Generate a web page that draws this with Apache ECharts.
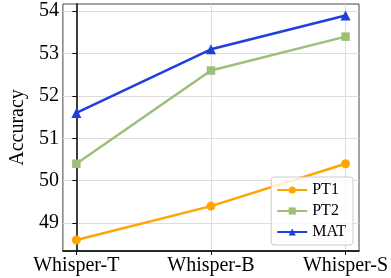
<!DOCTYPE html>
<html><head><meta charset="utf-8">
<script src="https://cdn.jsdelivr.net/npm/echarts@6/dist/echarts.min.js"></script>
<style>html,body{margin:0;padding:0;background:#fff}#c{width:391px;height:278px}</style>
</head><body><div id="c"></div>
<script>
var categories = ['Whisper-T', 'Whisper-B', 'Whisper-S'];
var pt1 = [48.6, 49.4, 50.4];
var pt2 = [50.4, 52.6, 53.4];
var mat = [51.6, 53.1, 53.9];
var yTicks = [49, 50, 51, 52, 53, 54];

function pts(arr){ return arr.map(function(v,i){ return [i, v]; }); }
var font = 'Liberation Serif';
var chart = echarts.init(document.getElementById('c'), null, {renderer:'canvas'});
chart.setOption({
  animation:false,
  grid:{left:47, right:32, top:4, bottom:27, show:true, borderColor:'#444', borderWidth:1},
  xAxis:{
    type:'value', min:-0.1, max:2.1,
    axisLine:{show:true, onZero:false, lineStyle:{color:'#000', width:1.5}},
    axisTick:{show:true, customValues:[0,1,2], length:4, lineStyle:{color:'#000'}},
    axisLabel:{customValues:[0,1,2], formatter:function(v){return categories[Math.round(v)];}, color:'#000', fontFamily:font, fontSize:20, margin:5},
    splitLine:{show:true, lineStyle:{color:'#ddd'}}
  },
  yAxis:{
    type:'value', min:48.34, max:54.17, name:'Accuracy', nameLocation:'middle', nameGap:33,
    nameTextStyle:{color:'#000', fontFamily:font, fontSize:20},
    axisLine:{show:true, lineStyle:{color:'#000', width:1.5}},
    axisTick:{show:true, customValues:yTicks, length:4, lineStyle:{color:'#000'}},
    axisLabel:{customValues:yTicks, color:'#000', fontFamily:font, fontSize:20, margin:4},
    splitLine:{show:true, lineStyle:{color:'#ddd'}}
  },
  legend:{
    right:38, bottom:33, orient:'vertical', itemWidth:30, itemHeight:9, itemGap:5,
    padding:[5,7,5,5], backgroundColor:'rgba(255,255,255,0.8)', borderColor:'#ccc', borderWidth:1, borderRadius:3,
    textStyle:{fontFamily:font, fontSize:16, color:'#000'},
    data:['PT1','PT2','MAT']
  },
  series:[
    {name:'PT1', type:'line', data:pts(pt1), symbol:'circle', symbolSize:9, color:'#FFA500', lineStyle:{width:2.5}},
    {name:'PT2', type:'line', data:pts(pt2), symbol:'rect', symbolSize:8.5, color:'#9DBF78', lineStyle:{width:2.5}},
    {name:'MAT', type:'line', data:pts(mat), symbol:'triangle', symbolSize:10, color:'#1F3FDC', lineStyle:{width:2.5}}
  ]
});
</script></body></html>
